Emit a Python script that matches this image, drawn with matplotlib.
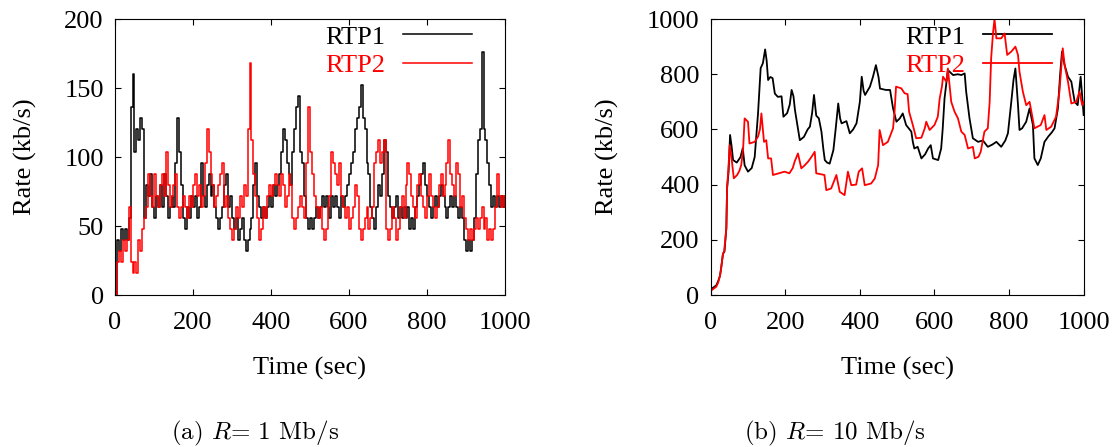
import matplotlib
matplotlib.use('Agg')
import matplotlib.pyplot as plt

plt.rcParams['font.family'] = ['Liberation Serif', 'DejaVu Serif']
plt.rcParams['mathtext.fontset'] = 'cm'

# (a) R = 1 Mb/s, sampled every 5 s
time_a = list(range(0, 1001, 5))
rtp1_a = [0, 40, 32, 48, 40, 48, 40, 56, 136, 160,
          104, 120, 112, 128, 120, 56, 80, 72, 88, 64,
          56, 72, 64, 80, 64, 88, 72, 56, 64, 72,
          64, 96, 128, 104, 80, 56, 48, 64, 56, 72,
          64, 72, 56, 64, 96, 72, 64, 80, 88, 72,
          80, 64, 56, 48, 56, 64, 80, 88, 64, 72,
          56, 48, 56, 40, 48, 56, 40, 32, 40, 48,
          56, 80, 96, 72, 64, 56, 64, 56, 64, 72,
          64, 80, 72, 80, 88, 104, 120, 112, 96, 88,
          80, 104, 120, 136, 144, 104, 96, 72, 56, 48,
          56, 48, 56, 64, 56, 64, 72, 64, 72, 64,
          56, 72, 64, 72, 64, 56, 72, 64, 72, 80,
          88, 96, 104, 120, 128, 136, 152, 128, 120, 96,
          88, 64, 56, 48, 64, 80, 72, 88, 112, 104,
          72, 64, 56, 64, 72, 56, 64, 56, 64, 56,
          64, 48, 56, 48, 64, 72, 80, 88, 96, 80,
          72, 64, 56, 64, 72, 64, 72, 80, 72, 64,
          56, 64, 72, 64, 72, 64, 56, 64, 56, 40,
          32, 40, 32, 40, 56, 88, 112, 120, 176, 120,
          112, 96, 80, 64, 72, 64, 72, 64, 72, 64,
          72]
rtp2_a = [0, 24, 32, 24, 40, 32, 40, 64, 24, 16,
          24, 16, 40, 32, 48, 56, 64, 88, 72, 64,
          88, 72, 64, 80, 88, 72, 104, 80, 64, 72,
          80, 88, 64, 56, 64, 72, 64, 56, 72, 64,
          80, 88, 72, 80, 64, 72, 96, 120, 104, 88,
          80, 64, 72, 80, 88, 96, 64, 72, 56, 48,
          40, 48, 64, 56, 72, 64, 80, 72, 120, 168,
          112, 88, 72, 56, 40, 48, 64, 56, 72, 80,
          72, 80, 88, 80, 72, 88, 80, 64, 72, 88,
          80, 56, 48, 56, 64, 72, 64, 56, 96, 136,
          104, 88, 72, 64, 56, 64, 48, 40, 48, 64,
          72, 104, 96, 88, 80, 96, 72, 64, 56, 64,
          48, 56, 64, 80, 72, 48, 40, 48, 56, 64,
          48, 56, 64, 96, 104, 112, 96, 104, 112, 48,
          40, 48, 64, 56, 40, 48, 64, 72, 56, 80,
          96, 88, 72, 64, 56, 80, 88, 72, 64, 56,
          72, 88, 72, 64, 56, 64, 80, 88, 72, 80,
          96, 112, 88, 80, 72, 96, 88, 64, 72, 56,
          48, 40, 48, 40, 48, 56, 48, 56, 64, 48,
          56, 40, 48, 40, 48, 64, 88, 72, 64, 72,
          64]

# (b) R = 10 Mb/s
time_b1 = [0, 5, 10, 15, 20, 25, 28, 33, 37, 42, 44, 48, 52, 56, 60, 70, 80, 86, 91, 100,
           110, 118, 127, 134, 140, 146, 150, 154, 160, 166, 172, 180, 190, 195, 205, 212, 217, 222, 226, 232,
           239, 250, 260, 266, 272, 277, 283, 290, 297, 302, 306, 312, 319, 329, 335, 342, 347, 351, 364, 373,
           382, 391, 400, 405, 410, 414, 427, 435, 443, 450, 454, 470, 481, 489, 498, 507, 515, 524, 538, 542,
           546, 555, 565, 575, 583, 590, 596, 610, 618, 622, 627, 636, 650, 663, 672, 681, 685, 694, 703, 717,
           730, 743, 755, 766, 779, 790, 797, 806, 812, 817, 824, 828, 835, 846, 855, 864, 868, 877, 885, 895,
           905, 915, 922, 931, 937, 942, 949, 958, 967, 976, 984, 992, 996, 1000]
rtp1_b = [20, 25, 30, 35, 50, 70, 97, 150, 157, 242, 388, 447, 580, 540, 489, 480, 500, 532, 470, 447,
          460, 500, 659, 822, 840, 890, 850, 779, 790, 786, 730, 718, 720, 646, 659, 690, 743, 720, 670, 620,
          561, 573, 600, 610, 660, 725, 650, 640, 592, 530, 489, 480, 476, 525, 600, 694, 640, 622, 630, 586,
          600, 622, 700, 791, 740, 725, 755, 790, 833, 790, 748, 743, 743, 676, 628, 640, 658, 616, 592, 555,
          531, 537, 495, 510, 531, 543, 495, 489, 531, 600, 712, 815, 797, 800, 797, 803, 737, 640, 568, 555,
          560, 537, 545, 555, 537, 560, 586, 700, 780, 821, 688, 598, 604, 628, 676, 616, 495, 471, 495, 555,
          574, 590, 604, 676, 800, 882, 833, 791, 773, 700, 688, 791, 720, 652]
time_b2 = [0, 5, 10, 15, 20, 25, 28, 33, 36, 42, 44, 48, 51, 57, 62, 71, 77, 82, 87, 91,
           100, 104, 118, 127, 132, 136, 143, 149, 154, 162, 167, 180, 198, 211, 220, 225, 234, 243, 252, 261,
           270, 279, 283, 305, 310, 323, 330, 337, 346, 359, 368, 377, 390, 397, 406, 413, 430, 440, 449, 453,
           462, 475, 489, 493, 497, 511, 520, 528, 532, 542, 551, 565, 574, 578, 587, 600, 609, 614, 620, 623,
           632, 636, 645, 654, 663, 672, 681, 690, 703, 708, 718, 724, 734, 743, 748, 752, 757, 761, 766, 779,
           788, 795, 806, 817, 824, 828, 837, 846, 855, 860, 868, 885, 895, 900, 913, 926, 935, 944, 949, 958,
           967, 980, 989, 996, 1000]
rtp2_b = [15, 20, 25, 30, 45, 70, 97, 150, 157, 242, 388, 470, 543, 483, 423, 435, 450, 471, 531, 640,
          628, 549, 555, 574, 600, 658, 555, 561, 495, 495, 435, 440, 447, 441, 460, 483, 513, 459, 470, 483,
          500, 519, 441, 435, 380, 386, 410, 435, 374, 362, 447, 398, 400, 447, 459, 398, 404, 422, 471, 598,
          543, 555, 604, 664, 755, 749, 731, 728, 664, 616, 568, 570, 604, 628, 598, 616, 646, 712, 755, 791,
          773, 821, 700, 664, 640, 592, 580, 531, 537, 495, 501, 519, 592, 604, 700, 858, 950, 1000, 930, 930,
          948, 870, 882, 900, 870, 809, 737, 688, 700, 664, 604, 616, 652, 598, 610, 646, 737, 894, 833, 773,
          694, 700, 737, 688, 700]

fig = plt.figure(figsize=(11.12, 4.47), dpi=100)
ax1 = fig.add_axes([0.1034, 0.340, 0.3507, 0.6174])
ax2 = fig.add_axes([0.6391, 0.340, 0.3354, 0.6174])

ax1.plot(time_a, rtp1_a, color='black', lw=1.1, drawstyle='steps-post', label='RTP1')
ax1.plot(time_a, rtp2_a, color='red', lw=1.1, drawstyle='steps-post', label='RTP2')
ax1.set_ylim(0, 200)
ax1.set_yticks([0, 50, 100, 150, 200])

ax2.plot(time_b1, rtp1_b, color='black', lw=1.3, label='RTP1')
ax2.plot(time_b2, rtp2_b, color='red', lw=1.3, label='RTP2')
ax2.set_ylim(0, 1000)
ax2.set_yticks([0, 200, 400, 600, 800, 1000])

for ax in (ax1, ax2):
    ax.set_xlim(0, 1000)
    ax.set_xticks([0, 200, 400, 600, 800, 1000])
    ax.tick_params(direction='in', top=True, right=True, length=4, labelsize=19)
    ax.tick_params(axis='x', pad=12)
    ax.tick_params(axis='y', pad=8)
    ax.set_xlabel('Time (sec)', fontsize=19, labelpad=17)
    ax.set_ylabel('Rate (kb/s)', fontsize=19, labelpad=20)
    leg = ax.legend(loc='upper right', bbox_to_anchor=(0.915, 0.978), frameon=False,
                    markerfirst=False, handlelength=2.6, handletextpad=0.7,
                    labelspacing=0.18, borderpad=0, borderaxespad=0,
                    fontsize=19, labelcolor='linecolor')
    leg.set_zorder(1)

fig.text(0.229, 0.031, r'(a) $R$= 1 Mb/s', family='cmr10', fontsize=18, ha='center', va='center')
fig.text(0.751, 0.031, r'(b) $R$= 10 Mb/s', family='cmr10', fontsize=18, ha='center', va='center')

fig.savefig('out.png', dpi=100)
